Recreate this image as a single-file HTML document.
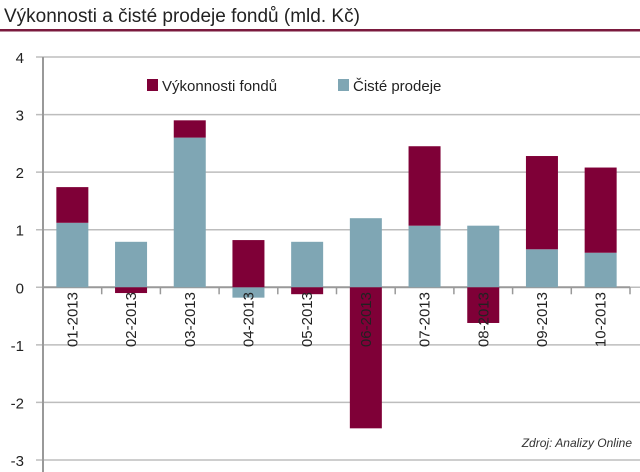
<!DOCTYPE html>
<html><head><meta charset="utf-8"><style>
body{margin:0;background:#fff;}
svg{display:block;font-family:"Liberation Sans",sans-serif;}
</style></head><body>
<svg id="c" width="640" height="472">
<text x="4" y="22" font-size="19" fill="#222">Výkonnosti a čisté prodeje fondů (mld. Kč)</text>
<rect x="0" y="29" width="640" height="2.5" fill="#7a1a3e"/>
<g id="grid"></g><g id="bars"></g><g id="labels"></g>
<rect x="147" y="79" width="11" height="12" fill="#7f0037"/>
<text x="162" y="91" font-size="15" fill="#222">Výkonnosti fondů</text>
<rect x="338" y="79" width="11" height="12" fill="#7fa6b4"/>
<text x="353" y="91" font-size="15" fill="#222">Čisté prodeje</text>
<text x="632" y="447" font-size="12" font-style="italic" fill="#333" text-anchor="end">Zdroj: Analizy Online</text>
</svg>
<script>
const categories=["01-2013","02-2013","03-2013","04-2013","05-2013","06-2013","07-2013","08-2013","09-2013","10-2013"];
const cisteProdeje=[1.12,0.79,2.6,-0.18,0.79,1.2,1.07,1.07,0.66,0.6];
const vykonnosti=[0.62,-0.1,0.3,0.82,-0.12,-2.45,1.38,-0.62,1.62,1.48];
const yTicks=[4,3,2,1,0,-1,-2,-3];
const NS="http://www.w3.org/2000/svg";
const x0=43,x1=630,yTop=57,yBot=460;
const y=v=>yTop+(4-v)*(yBot-yTop)/7;
const band=(x1-x0)/categories.length;
const grid=document.getElementById('grid'),bars=document.getElementById('bars'),labels=document.getElementById('labels');
function mk(tag,attrs,parent){const e=document.createElementNS(NS,tag);for(const k in attrs)e.setAttribute(k,attrs[k]);parent.appendChild(e);return e;}
yTicks.forEach(t=>{
 const l=mk('line',{x1:36,x2:640,y1:y(t),y2:y(t),stroke:'#bdbdbd','stroke-width':1.5},grid);
 
 
 const tx=mk('text',{x:24,y:y(t)+6,'font-size':15,'text-anchor':'end',fill:'#222'},grid);
 tx.textContent=t;
 
 
});
const ax=mk('line',{x1:x0,x2:x0,y1:yTop,y2:yBot+12,stroke:'#999','stroke-width':2},grid);


const zx=mk('line',{x1:x0,x2:x1,y1:y(0),y2:y(0),stroke:'#999','stroke-width':2},grid);


for(let i=1;i<=categories.length;i++){
 const tk=mk('line',{x1:x0+i*band,x2:x0+i*band,y1:y(0),y2:y(0)+7,stroke:'#999','stroke-width':1.5},grid);
 
 
}
const bw=32;
categories.forEach((c,i)=>{
 const cx=x0+band*(i+0.5);
 let pos=0,neg=0;
 [[cisteProdeje[i],'#7fa6b4','bar-ciste-prodeje'],[vykonnosti[i],'#7f0037','bar-vykonnosti']].forEach(([v,col,nm])=>{
  let a,b;
  if(v>=0){a=pos;b=pos+v;pos=b;}else{a=neg;b=neg+v;neg=b;}
  const r=mk('rect',{x:cx-bw/2,y:Math.min(y(a),y(b)),width:bw,height:Math.abs(y(a)-y(b)),fill:col},bars);
  
  
 });
 const t=mk('text',{x:0,y:0,'font-size':15,'text-anchor':'end',fill:'#222',transform:`translate(${cx+5},292) rotate(-90)`},labels);
 t.textContent=c;
 
 
});
</script>
</body></html>
